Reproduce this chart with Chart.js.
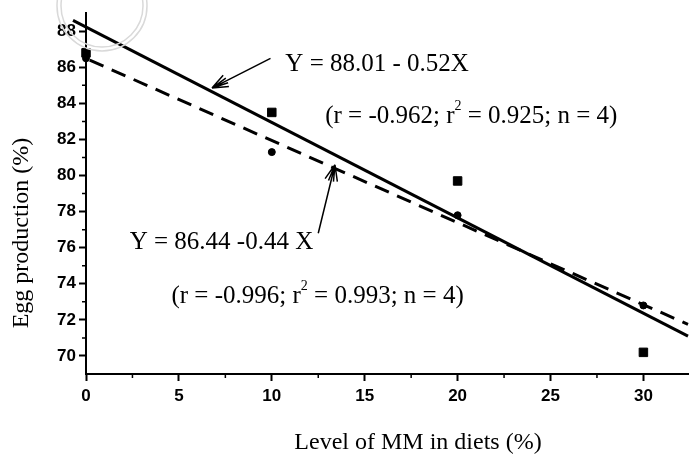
<!DOCTYPE html>
<html>
<head>
<meta charset="utf-8">
<script src="https://cdn.jsdelivr.net/npm/chart.js@4.4.1/dist/chart.umd.min.js"></script>
<style>
  html, body { margin: 0; padding: 0; background: #fff; }
</style>
</head>
<body>
<canvas id="eggChart" width="695" height="465"></canvas>
<script>
// Egg production vs level of MM in diets
const levels = [0, 10, 20, 30];
const eggSquares = [86.8, 83.5, 79.7, 70.2];
const eggCircles = [86.5, 81.3, 77.8, 72.8];

// regression lines, end points
const solidFitX = [-0.7, 32.4];
const solidFitY = [88.6, 71.1];
const dashFitX = [0.2, 32.4];
const dashFitY = [86.4, 71.75];

const xTicks = [0, 5, 10, 15, 20, 25, 30];
const yTicks = [70, 72, 74, 76, 78, 80, 82, 84, 86, 88];
const xMinorTicks = [2.5, 7.5, 12.5, 17.5, 22.5, 27.5];
const yMinorTicks = [71, 73, 75, 77, 79, 81, 83, 85, 87];

const xTitle = 'Level of MM in diets (%)';
const yTitle = 'Egg production (%)';
const eqSolid = 'Y = 88.01 - 0.52X';
const statSolid = '(r = -0.962; r\u00b2 = 0.925; n = 4)';
const eqDash = 'Y = 86.44 -0.44 X';
const statDash = '(r = -0.996; r\u00b2 = 0.993; n = 4)';

const toPoints = (xs, ys) => xs.map((x, i) => ({ x, y: ys[i] }));

// text with a small raised "2" for r squared
function drawSupText(ctx, text, x, y, size) {
  const parts = text.split('\u00b2');
  let cx = x;
  parts.forEach((part, i) => {
    ctx.font = size + 'px "Liberation Serif"';
    ctx.fillText(part, cx, y);
    cx += ctx.measureText(part).width;
    if (i < parts.length - 1) {
      ctx.font = Math.round(size * 0.55) + 'px "Liberation Serif"';
      ctx.fillText('2', cx, y - size * 0.4);
      cx += ctx.measureText('2').width;
    }
  });
}

function drawArrow(ctx, x0, y0, x1, y1) {
  ctx.beginPath();
  ctx.moveTo(x0, y0);
  ctx.lineTo(x1, y1);
  const ang = Math.atan2(y0 - y1, x0 - x1);
  [-0.38, -0.15, 0.15, 0.38].forEach(d => {
    ctx.moveTo(x1, y1);
    ctx.lineTo(x1 + 17 * Math.cos(ang + d), y1 + 17 * Math.sin(ang + d));
  });
  ctx.stroke();
}

const figureExtras = {
  id: 'figureExtras',
  afterDraw(chart) {
    const { ctx, scales: { x, y } } = chart;
    const px = v => x.getPixelForValue(v);
    const py = v => y.getPixelForValue(v);
    ctx.save();

    // faint stamp circle from the scan
    ctx.strokeStyle = '#d9d9d9';
    ctx.lineWidth = 1.5;
    ctx.beginPath(); ctx.arc(102, 6, 45, 0, Math.PI * 2); ctx.stroke();
    ctx.beginPath(); ctx.arc(102, 6, 41, 0, Math.PI * 2); ctx.stroke();

    // minor ticks
    ctx.strokeStyle = '#000';
    ctx.lineWidth = 1.5;
    ctx.beginPath();
    xMinorTicks.forEach(v => { ctx.moveTo(px(v), y.bottom); ctx.lineTo(px(v), y.bottom + 4); });
    yMinorTicks.forEach(v => { ctx.moveTo(x.left - 4, py(v)); ctx.lineTo(x.left, py(v)); });
    ctx.stroke();

    // equations
    ctx.fillStyle = '#000';
    ctx.textAlign = 'left';
    ctx.textBaseline = 'middle';
    drawSupText(ctx, eqSolid, px(10.73), py(86.18), 25);
    drawSupText(ctx, statSolid, px(12.87), py(83.3), 25);
    drawSupText(ctx, eqDash, px(2.35), py(76.3), 25);
    drawSupText(ctx, statDash, px(4.6), py(73.3), 25);

    // arrows pointing at the lines
    ctx.lineWidth = 1.5;
    drawArrow(ctx, px(9.93), py(86.5), px(6.78), py(84.85));
    drawArrow(ctx, px(12.5), py(76.8), px(13.4), py(80.6));

    // axis titles
    ctx.font = '24px "Liberation Serif"';
    ctx.textAlign = 'center';
    ctx.fillText(xTitle, 418, 443);
    ctx.translate(22, 233);
    ctx.rotate(-Math.PI / 2);
    ctx.fillText(yTitle, 0, 0);
    ctx.restore();
  }
};

const tickFont = { family: '"Liberation Sans"', size: 17, weight: 'bold' };

new Chart(document.getElementById('eggChart').getContext('2d'), {
  type: 'scatter',
  data: {
    datasets: [
      {
        data: toPoints(levels, eggSquares),
        pointStyle: 'rect',
        pointRadius: 6,
        backgroundColor: '#000',
        borderColor: '#000',
        clip: false,
      },
      {
        data: toPoints(levels, eggCircles),
        pointStyle: 'circle',
        pointRadius: 3.5,
        backgroundColor: '#000',
        borderColor: '#000',
        clip: false,
      },
      {
        data: toPoints(solidFitX, solidFitY),
        showLine: true,
        pointRadius: 0,
        borderColor: '#000',
        borderWidth: 3,
        clip: false,
      },
      {
        data: toPoints(dashFitX, dashFitY),
        showLine: true,
        pointRadius: 0,
        borderColor: '#000',
        borderWidth: 3,
        borderDash: [15, 9],
        clip: false,
      },
    ],
  },
  options: {
    responsive: false,
    animation: false,
    devicePixelRatio: 1,
    layout: { padding: { top: 12, right: 3, left: 0, bottom: 0 } },
    plugins: { legend: { display: false }, tooltip: { enabled: false } },
    scales: {
      x: {
        type: 'linear',
        min: 0,
        max: 32.4,
        afterBuildTicks: s => { s.ticks = xTicks.map(v => ({ value: v })); },
        afterFit: s => { s.height = 91; },
        grid: { drawOnChartArea: false, tickLength: 7, tickWidth: 2, color: '#000' },
        border: { color: '#000', width: 2 },
        ticks: { color: '#000', font: tickFont, padding: 5, autoSkip: false, maxRotation: 0 },
      },
      y: {
        type: 'linear',
        min: 69,
        max: 89,
        afterBuildTicks: s => { s.ticks = yTicks.map(v => ({ value: v })); },
        afterFit: s => { s.width = 86; },
        grid: { drawOnChartArea: false, tickLength: 7, tickWidth: 2, color: '#000' },
        border: { color: '#000', width: 2 },
        ticks: { color: '#000', font: tickFont, padding: 3, autoSkip: false },
      },
    },
  },
  plugins: [figureExtras],
});
</script>
</body>
</html>
